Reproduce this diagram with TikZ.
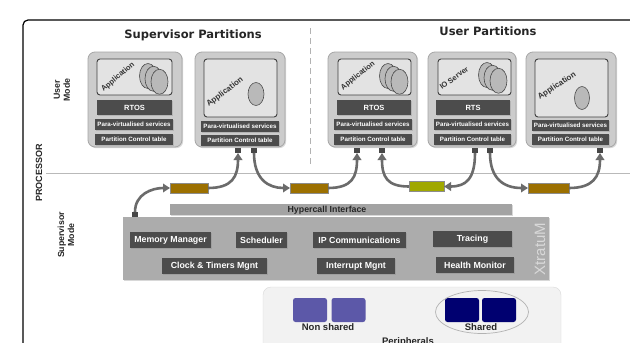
\documentclass[tikz,border=0pt]{standalone}
\usepackage{fontspec}
\setmainfont{Liberation Sans}
\newfontfamily\titlefont{DejaVu Sans}
\usetikzlibrary{arrows.meta,shadows,shapes.geometric}
\definecolor{brownch}{RGB}{156,112,0}
\definecolor{greench}{RGB}{160,168,0}
\definecolor{nsblue}{RGB}{92,88,168}
\definecolor{shblue}{RGB}{0,0,112}
\begin{document}
\begin{tikzpicture}[x=1pt,y=-1pt,
  every node/.style={inner sep=0pt, outer sep=0pt},
  shad/.style={drop shadow={opacity=0.3,shadow xshift=1.2pt,shadow yshift=-1.2pt}},
  part/.style={draw=gray!70, fill=gray!40, rounded corners=7pt, line width=0.8pt, shad},
  appbox/.style={draw=black!75, fill=gray!22, rounded corners=3pt, line width=0.9pt},
  darkbar/.style={fill=black!70, text=white, shad},
  rtos/.style={darkbar, font=\bfseries\fontsize{7.5}{8}\selectfont},
  para/.style={darkbar, font=\bfseries\fontsize{6.2}{7}\selectfont, minimum height=11pt},
  port/.style={fill=black!72, minimum width=6pt, minimum height=5pt},
  chan/.style={draw=black!45, line width=0.5pt, minimum height=10pt},
  module/.style={darkbar, font=\bfseries\fontsize{8.8}{10}\selectfont, minimum height=16pt},
  conn/.style={draw=black!58, line width=2.6pt, -{Triangle[length=7pt,width=8.5pt]}},
  applabel/.style={text=black!80, font=\bfseries\fontsize{7.5}{8}\selectfont},
  sidelabel/.style={text=black!85, font=\bfseries\fontsize{8.8}{10}\selectfont, align=center, rotate=90},
  ell/.style={draw=black!70, fill=gray!55, line width=0.6pt},
  perblk/.style={rounded corners=2.5pt, minimum width=34pt, minimum height=24pt}
]
\useasboundingbox (0,0) rectangle (630,343);
\fill[white] (0,0) rectangle (630,343);

% outer frame, separators
\draw[line width=1.2pt, rounded corners=5pt] (23,380) |- (660,20);
\draw[gray!55, line width=1pt] (46,173) -- (630,173);
\draw[gray!60, line width=0.7pt, dash pattern=on 6pt off 4pt] (310,28) -- (310,165);

% titles and side labels
\node[font=\titlefont\bfseries\fontsize{11.5}{13}\selectfont, text=black!85] (tsup) at (193,35) {Supervisor Partitions};
\node[font=\titlefont\bfseries\fontsize{11.5}{13}\selectfont, text=black!85] (tusr) at (488,31) {User Partitions};
\node[sidelabel] (lum) at (62,90) {User\\Mode};
\node[sidelabel, font=\bfseries\fontsize{9}{10}\selectfont] (lproc) at (39,173) {PROCESSOR};
\node[sidelabel] (lsm) at (66,235) {Supervisor\\Mode};

% partitions
\node[part, minimum width=94pt, minimum height=95pt] (p1) at (135,99.5) {};
\node[part, minimum width=90pt, minimum height=95pt] (p2) at (240,99.5) {};
\node[part, minimum width=89pt, minimum height=95pt] (p3) at (372.5,99.5) {};
\node[part, minimum width=88pt, minimum height=95pt] (p4) at (472,99.5) {};
\node[part, minimum width=90pt, minimum height=95pt] (p5) at (571,99.5) {};

% application boxes
\node[appbox, minimum width=75pt, minimum height=36pt] (a1) at (134.5,77) {};
\node[appbox, minimum width=73pt, minimum height=58pt] (a2) at (240.5,88) {};
\node[appbox, minimum width=73pt, minimum height=36pt] (a3) at (374.5,77) {};
\node[appbox, minimum width=73pt, minimum height=36pt] (a4) at (474.5,77) {};
\node[appbox, minimum width=73pt, minimum height=58pt] (a5) at (571.5,88) {};

% ellipses
\foreach \cx in {148,153.5,159.5} {\draw[ell] (\cx,{76+(\cx-148)*0.5}) ellipse (8.5 and 12.5);}
\foreach \cx in {388,393.5,399.5} {\draw[ell] (\cx,{76+(\cx-388)*0.5}) ellipse (8.5 and 12.5);}
\foreach \cx in {487,492.5,498.5} {\draw[ell] (\cx,{75+(\cx-487)*0.5}) ellipse (8.5 and 12.5);}
\draw[ell] (256,94) ellipse (8 and 11.5);
\draw[ell] (582,98) ellipse (7.5 and 11.5);

% application labels
\node[applabel, rotate=40] (al1) at (118,77) {Application};
\node[applabel, rotate=37, font=\bfseries\fontsize{8}{9}\selectfont] (al2) at (225,92) {Application};
\node[applabel, rotate=38] (al3) at (358,76) {Application};
\node[applabel, rotate=36] (al4) at (454,78) {IO Server};
\node[applabel, rotate=33, font=\bfseries\fontsize{8}{9}\selectfont] (al5) at (557,86) {Application};

% RTOS bars
\node[rtos, minimum width=75pt, minimum height=15pt] (r1) at (134.5,107.5) {RTOS};
\node[rtos, minimum width=74pt, minimum height=15pt] (r3) at (374,107.5) {RTOS};
\node[rtos, minimum width=74pt, minimum height=15pt] (r4) at (473,107.5) {RTS};

% para-virtualised services and partition control tables
\node[para, minimum width=78pt] (v1) at (134,124.5) {Para-virtualised services};
\node[para, minimum width=78pt] (t1) at (134,139.5) {Partition Control table};
\node[para, minimum width=78pt] (v2) at (240,126.5) {Para-virtualised services};
\node[para, minimum width=78pt] (t2) at (240,140.5) {Partition Control table};
\node[para, minimum width=78pt] (v3) at (373,124.5) {Para-virtualised services};
\node[para, minimum width=78pt] (t3) at (373,139.5) {Partition Control table};
\node[para, minimum width=77pt] (v4) at (472.5,124.5) {Para-virtualised services};
\node[para, minimum width=77pt] (t4) at (472.5,139.5) {Partition Control table};
\node[para, minimum width=77pt] (v5) at (570.5,125.5) {Para-virtualised services};
\node[para, minimum width=77pt] (t5) at (570.5,139.5) {Partition Control table};

% ports
\node[port] (q2a) at (238,150.5) {};
\node[port] (q2b) at (254,150.5) {};
\node[port] (q3a) at (357,150.5) {};
\node[port] (q3b) at (382,150.5) {};
\node[port] (q4a) at (475,150.5) {};
\node[port] (q4b) at (490,150.5) {};
\node[port] (q5) at (600,150.5) {};

% channels
\node[chan, fill=brownch, minimum width=38pt] (ch1) at (189,188) {};
\node[chan, fill=brownch, minimum width=38pt] (ch2) at (309,188) {};
\node[chan, fill=greench, minimum width=35pt] (chg) at (426.5,186.5) {};
\node[chan, fill=brownch, minimum width=41pt] (ch3) at (548.5,188) {};

% hypercall interface and XtratuM
\node[fill=gray!72, minimum width=342pt, minimum height=11pt, shad] (hyp) at (341,209.5) {};
\node[font=\bfseries\fontsize{8.8}{10}\selectfont, text=black!85] (hyptxt) at (327,210) {Hypercall Interface};
\node[fill=gray!65, minimum width=426pt, minimum height=63pt, shad] (xm) at (336,248.5) {};
\node[rotate=90, text=gray!30, font=\fontsize{15}{16}\selectfont] (xmtxt) at (540,249) {XtratuM};
\node[port] (qx) at (135,214.5) {};

% modules
\node[module, minimum width=81pt] (mm) at (170.5,240) {Memory Manager};
\node[module, minimum width=51pt] (sch) at (261.5,240) {Scheduler};
\node[module, minimum width=93pt] (ipc) at (359.5,240) {IP Communications};
\node[module, minimum width=79pt] (trc) at (472.5,239) {Tracing};
\node[module, minimum width=105pt] (clk) at (214.5,266) {Clock \& Timers Mgnt};
\node[module, minimum width=78pt] (irq) at (356,266) {Interrupt Mgnt};
\node[module, minimum width=78pt] (hm) at (475,265) {Health Monitor};

% connectors
\draw[conn] (qx.north) .. controls +(0,-18) and +(-18,0) .. (ch1.west);
\draw[conn] (ch1.east) .. controls +(24,0) and +(0,24) .. (q2a.south);
\draw[conn] (q2b.south) .. controls +(0,26) and +(-22,0) .. (ch2.west);
\draw[conn] (ch2.east) .. controls +(24,0) and +(0,24) .. (q3a.south);
\draw[conn] (q4a.south) .. controls +(0,26) and +(22,0) .. (chg.east);
\draw[conn] (chg.west) .. controls +(-22,0) and +(0,24) .. (q3b.south);
\draw[conn] (q4b.south) .. controls +(0,26) and +(-24,0) .. (ch3.west);
\draw[conn] (ch3.east) .. controls +(24,0) and +(0,24) .. (q5.south);

% peripherals
\node[draw=gray!30, fill=gray!10, rounded corners=8pt, minimum width=298pt, minimum height=80pt, anchor=north west] (per) at (263,287) {};
\node[perblk, fill=nsblue] (ns1) at (310,310) {};
\node[perblk, fill=nsblue] (ns2) at (348.5,310) {};
\node[perblk, fill=shblue] (sh1) at (462,310) {};
\node[perblk, fill=shblue] (sh2) at (499,310) {};
\node[draw=gray!60, ellipse, line width=0.7pt, minimum width=93pt, minimum height=43pt] (shell) at (482,312) {};
\node[font=\bfseries\fontsize{9.5}{10}\selectfont, text=black!85] (nstxt) at (328,327) {Non shared};
\node[font=\bfseries\fontsize{9.5}{10}\selectfont, text=black!85] (shtxt) at (481,327) {Shared};
\node[font=\bfseries\fontsize{9.5}{10}\selectfont, text=black!85] (pertxt) at (408,342) {Peripherals};
\end{tikzpicture}
\end{document}
